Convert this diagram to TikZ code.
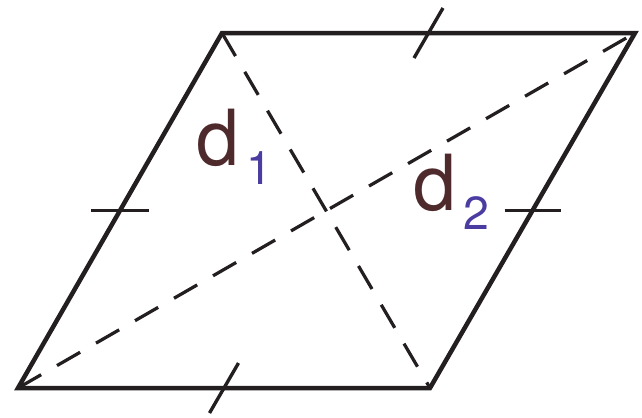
\documentclass[tikz,border=0pt]{standalone}
\usepackage{fontspec}
\setmainfont{TeX Gyre Heros}
\usetikzlibrary{calc}
\definecolor{edgeBlack}{HTML}{231F20}
\definecolor{labelBrown}{HTML}{4E2A2C}
\definecolor{subBlue}{HTML}{4A3CA0}
\tikzset{
  side/.style   = {draw=edgeBlack, line width=3.2pt, line join=miter},
  diag/.style   = {draw=edgeBlack, line width=2.3pt,
                   dash pattern=on 19pt off 13pt},
  hatch/.style  = {draw=edgeBlack, line width=2.4pt},
  dlabel/.style = {anchor=base west, inner sep=0pt, text=labelBrown,
                   font=\fontsize{55}{55}\selectfont}
}
\newcommand{\sublab}[1]{\kern5pt\raisebox{-14pt}{\fontsize{33}{33}\selectfont\color{subBlue}#1}}

\begin{document}
\begin{tikzpicture}[x=0.025cm, y=-0.025cm]
  \useasboundingbox (0,0) rectangle (642,417);
  % corners of the rhombus
  \coordinate (bl) at (18,388);
  \coordinate (br) at (430,388);
  \coordinate (tr) at (635,33);
  \coordinate (tl) at (222,33);
  % diagonals
  \draw[diag] (tl) -- (br);
  \draw[diag] (bl) -- (tr);
  % sides
  \draw[side] (bl) -- (br) -- (tr) -- (tl) -- cycle;
  % equal-side marks
  \coordinate (mleft)   at ($(bl)!0.5!(tl)$);
  \coordinate (mright)  at ($(br)!0.5!(tr)$);
  \coordinate (mtop)    at ($(tl)!0.5!(tr)$);
  \coordinate (mbottom) at ($(bl)!0.5!(br)$);
  \draw[hatch] ($(mleft)+(-29,0)$) -- ($(mleft)+(29,0)$);
  \draw[hatch] ($(mright)+(-28,0)$) -- ($(mright)+(28,0)$);
  \draw[hatch] ($(mtop)+(-14.5,25)$) -- ($(mtop)+(14.5,-25)$);
  \draw[hatch] ($(mbottom)+(-14.5,25)$) -- ($(mbottom)+(14.5,-25)$);
  % labels
  \node[dlabel] (d1) at (196,165) {d\sublab{1}};
  \node[dlabel] (d2) at (413,210) {d\sublab{2}};
\end{tikzpicture}
\end{document}
